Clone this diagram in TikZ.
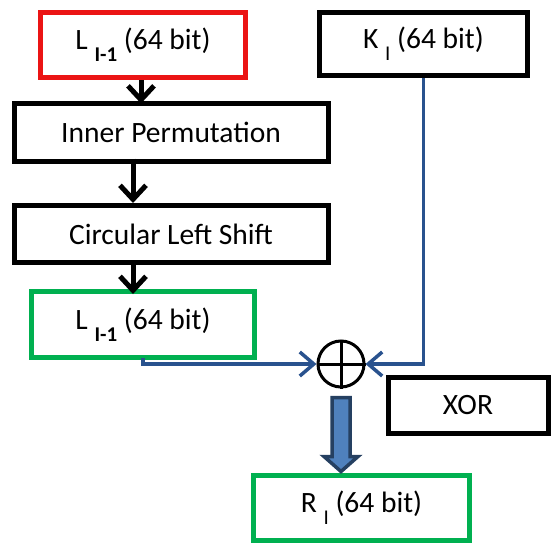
\documentclass[tikz,border=0pt]{standalone}
\usepackage{fontspec}
\setmainfont{Carlito}
\usepackage{xcolor}
\usepackage{tikz}
\usetikzlibrary{arrows.meta,positioning}
\definecolor{boxred}{RGB}{235,20,20}
\definecolor{boxgreen}{RGB}{0,176,80}
\definecolor{lineblue}{RGB}{41,82,142}
\definecolor{fillblue}{RGB}{79,129,189}
\definecolor{edgeblue}{RGB}{37,64,97}
\newcommand{\lowsub}[1]{\raisebox{-12pt}{\fontsize{21}{21}\selectfont #1}}

\begin{document}
\begin{tikzpicture}[x=1pt, y=-1pt, font=\fontsize{29.5}{33}\selectfont,
  box/.style={draw, line width=5pt, rectangle, inner sep=0pt, align=center},
  blk/.style={line width=5pt, -{Straight Barb[length=14pt, width=26pt]}},
  blu/.style={draw=lineblue, line width=3.5pt, -{Straight Barb[length=14pt, width=24pt]}},
  fatarrow/.style={fill=fillblue, draw=edgeblue, line width=3.5pt, line join=miter}]
  \useasboundingbox (0,0) rectangle (552,544);
  \node[box, draw=boxred, minimum width=205pt, minimum height=65pt] (lprev) at (143,45) {L \lowsub{\bfseries I-1} (64 bit)};
  \node[box, minimum width=314pt, minimum height=58pt] (perm) at (171,132) {Inner Permutation};
  \node[box, minimum width=314pt, minimum height=57pt] (shift) at (171,234) {Circular Left Shift};
  \node[box, draw=boxgreen, minimum width=223pt, minimum height=66pt] (lnew) at (143,324.5) {L \lowsub{\bfseries I-1} (64 bit)};
  \node[box, minimum width=208pt, minimum height=63pt] (key) at (423.5,44) {K \lowsub{I} (64 bit)};
  \node[draw, circle, line width=3pt, minimum size=46pt, inner sep=0pt] (xor) at (341,364) {};
  \draw[line width=3pt] (xor.north) -- (xor.south) (xor.west) -- (xor.east);
  \node[box, minimum width=160pt, minimum height=56pt] (xorlabel) at (468,405.5) {XOR};
  \node[box, draw=boxgreen, minimum width=216pt, minimum height=65pt] (rout) at (361.5,508) {R \lowsub{I} (64 bit)};
  % flow on the left
  \draw[blk] ([xshift=-2pt]lprev.south) -- ([xshift=-2pt,yshift=-3pt]lprev.south |- perm.north);
  \draw[blk] ([xshift=-38pt,yshift=5pt]perm.south) -- ([xshift=-38pt]shift.north);
  \draw[blk] ([xshift=-38pt,yshift=5pt]shift.south) -- ([xshift=-38pt,yshift=-5pt]shift.south |- lnew.north);
  % inputs of the xor
  \draw[blu] ([yshift=2pt]lnew.south) |- (xor.west);
  \draw[blu] (key.south) |- (xor.east);
  % result
  \draw[fatarrow] (xor.south) ++(-9,9) -- ++(0,59) -- ++(-8,0) -- ++(17,15) -- ++(17,-15) -- ++(-8,0) -- ++(0,-59) -- cycle;
\end{tikzpicture}
\end{document}
